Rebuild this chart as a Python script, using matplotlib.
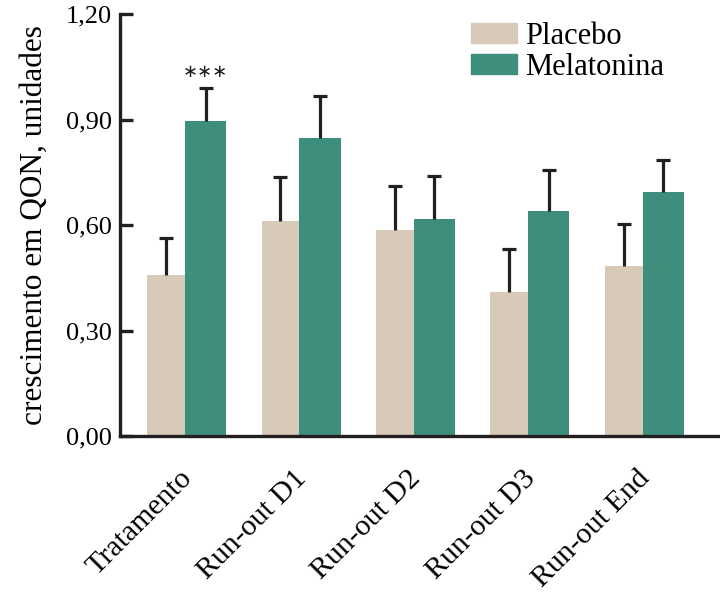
import numpy as np
import matplotlib
matplotlib.use("Agg")
import matplotlib.pyplot as plt
import matplotlib.transforms as mtransforms
from matplotlib.patches import Patch

# dados
grupos = ["Tratamento", "Run-out D1", "Run-out D2", "Run-out D3", "Run-out End"]
placebo = [0.458, 0.612, 0.586, 0.409, 0.483]
placebo_erro = [0.105, 0.124, 0.126, 0.124, 0.121]
melatonina = [0.896, 0.848, 0.617, 0.640, 0.693]
melatonina_erro = [0.094, 0.120, 0.123, 0.116, 0.092]
yticks = [0.0, 0.3, 0.6, 0.9, 1.2]
ytick_labels = ["0,00", "0,30", "0,60", "0,90", "1,20"]

cor_placebo = "#d7cab9"
cor_mel = "#3e8e7e"
cor_erro = "#231f20"

plt.rcParams["font.family"] = ["Liberation Serif", "DejaVu Serif"]

fig = plt.figure(figsize=(7.2, 5.93), dpi=100)
ax = fig.add_axes([120 / 720, 1 - 436 / 593, 600 / 720, 422 / 593])

x = np.arange(len(grupos))
w_p = 0.33
w_m = 0.36
err_kw = dict(ecolor=cor_erro, elinewidth=2.3, capsize=5, capthick=2.3)

ax.bar(x - w_p / 2, placebo, w_p, color=cor_placebo, zorder=2)
ax.bar(x + w_m / 2, melatonina, w_m, color=cor_mel, zorder=2)


def erro_para_cima(xs, alturas, erros):
    # barra de erro só para cima: esconde o traço inferior
    eb = ax.errorbar(xs, alturas, yerr=[np.zeros(len(erros)), erros], fmt="none", zorder=3, **err_kw)
    for cap in eb[1]:
        if np.allclose(cap.get_ydata(), alturas):
            cap.set_visible(False)


erro_para_cima(x - w_p / 2, placebo, placebo_erro)
erro_para_cima(x + w_m / 2, melatonina, melatonina_erro)

# significância
ax.text(x[0] + w_m / 2, melatonina[0] + melatonina_erro[0] + 0.02, "∗∗∗",
        ha="center", va="bottom", fontsize=13, family="DejaVu Sans", color=cor_erro)

ax.set_xlim(-0.568, 4.677)
ax.set_ylim(0, 1.2)

for s in ["top", "right"]:
    ax.spines[s].set_visible(False)
ax.spines["left"].set_linewidth(2.4)
ax.spines["bottom"].set_linewidth(2.4)
ax.spines["left"].set_color(cor_erro)
ax.spines["bottom"].set_color(cor_erro)

ax.set_yticks(yticks)
ax.set_yticklabels(ytick_labels, fontsize=19)
ax.tick_params(axis="y", direction="in", length=9, width=2.4, color=cor_erro, pad=6)

ax.set_xticks(x)
ax.set_xticklabels(grupos, fontsize=21.5, rotation=45, ha="right", va="top", rotation_mode="anchor")
ax.tick_params(axis="x", length=0, pad=21)
desloc = mtransforms.ScaledTranslation(-6 / 100, 0, fig.dpi_scale_trans)
for lbl in ax.get_xticklabels():
    lbl.set_transform(lbl.get_transform() + desloc)

ax.set_ylabel("crescimento em QON, unidades", fontsize=22.5, labelpad=12)

handles = [Patch(color=cor_placebo, label="Placebo"), Patch(color=cor_mel, label="Melatonina")]
ax.legend(handles=handles, loc="upper left", bbox_to_anchor=(339 / 600, 1.01), frameon=False,
          fontsize=22, handlelength=1.5, handleheight=0.65, handletextpad=0.25,
          labelspacing=0.05, borderaxespad=0)

fig.savefig("out.png", dpi=100)
